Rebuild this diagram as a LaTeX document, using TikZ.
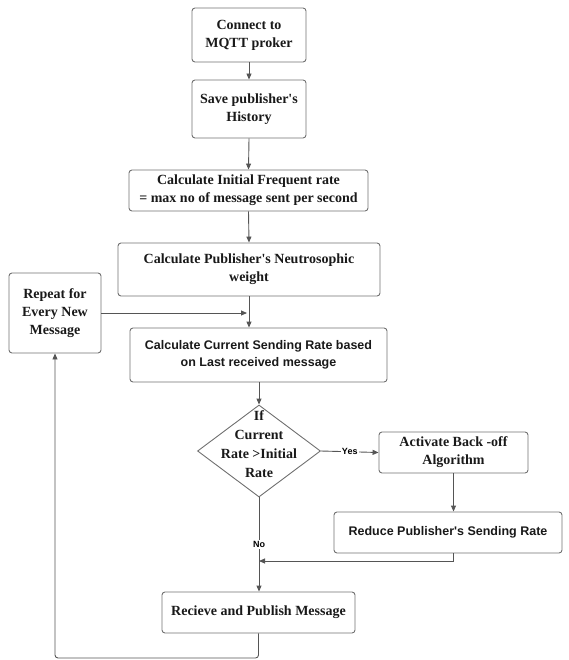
\documentclass[tikz,border=0pt]{standalone}
\usepackage{fontspec}
\setmainfont{Liberation Serif}[Ligatures=TeXOff]
\setsansfont{Liberation Sans}[Ligatures=TeXOff]
\usetikzlibrary{shapes.geometric,arrows.meta}
\definecolor{boxline}{HTML}{707070}
\definecolor{arrline}{HTML}{555555}
\begin{document}
\begin{tikzpicture}[x=1pt,y=-1pt,
  box/.style={draw=boxline, line width=0.9pt, rounded corners=3pt, align=center, inner sep=0pt,
    font=\fontsize{14}{18}\selectfont\bfseries, text=black!90},
  sbox/.style={box, font=\sffamily\fontsize{12.5}{17}\selectfont\bfseries},
  conn/.style={draw=arrline, line width=0.9pt, -{Triangle[length=6pt,width=5pt]}},
  plain/.style={draw=arrline, line width=0.9pt},
  lbl/.style={font=\sffamily\fontsize{9}{10}\selectfont\bfseries, fill=white, inner sep=1pt}
]
\useasboundingbox (0,0) rectangle (569,660);

\node[box, minimum width=114pt, minimum height=54pt] (b1) at (249,35) {Connect to\\MQTT proker};
\node[box, minimum width=114pt, minimum height=58pt] (b2) at (249,109) {Save publisher's\\History};
\node[box, minimum width=239pt, minimum height=41pt] (b3) at (248.5,190.5) {Calculate Initial Frequent rate\\= max no of message sent per second};
\node[box, minimum width=262pt, minimum height=53pt] (b4) at (249,269.5) {Calculate Publisher's Neutrosophic\\weight};
\node[box, minimum width=92pt, minimum height=80pt] (rep) at (55,313) {Repeat for\\Every New\\Message};
\node[sbox, minimum width=257pt, minimum height=54pt] (b5) at (258.5,355) {Calculate Current Sending Rate based\\on Last received message};
\node[draw=boxline, line width=0.9pt, diamond, minimum width=123pt, minimum height=92pt, inner sep=0pt] (dia) at (259,451) {};
\node[align=center, inner sep=0pt, font=\fontsize{14}{19}\selectfont\bfseries, text=black!90] (diatext) at (259,444) {If\\Current\\Rate >Initial\\Rate};
\node[box, minimum width=149pt, minimum height=41pt] (b6) at (453.5,452.5) {Activate Back -off\\Algorithm};
\node[sbox, minimum width=228pt, minimum height=41pt] (b7) at (448,532.5) {Reduce Publisher's Sending Rate};
\node[box, minimum width=193pt, minimum height=41pt] (b8) at (258.5,612.5) {Recieve and Publish Message};

\coordinate (merge) at (259,561);
\coordinate (bl) at (55,658);
\coordinate (br) at (258.5,658);

\draw[conn] (b1.south) -- (b2.north);
\draw[conn] (b2.south) -- (b3.north);
\draw[conn] (b3.south) -- (b4.north);
\draw[conn] (b4.south) -- (b4.south |- b5.north);
\draw[conn] (rep.east) -- ([xshift=-2pt]rep.east -| b4.south);
\draw[conn] (b5.south -| dia.north) -- (dia.north);
\draw[conn] (dia.east) -- node[lbl] {Yes} (b6.west);
\draw[conn] (b6.south) -- (b6.south |- b7.north);
\draw[plain] (b6.south |- b7.south) -- (b6.south |- merge);
\draw[conn] (b6.south |- merge) -- (merge);
\draw[conn] (dia.south) -- node[lbl, pos=0.5] {No} (dia.south |- b8.north);
\draw[conn, rounded corners=3pt] (b8.south) -- (br) -- (bl) -- (rep.south);
\end{tikzpicture}
\end{document}
